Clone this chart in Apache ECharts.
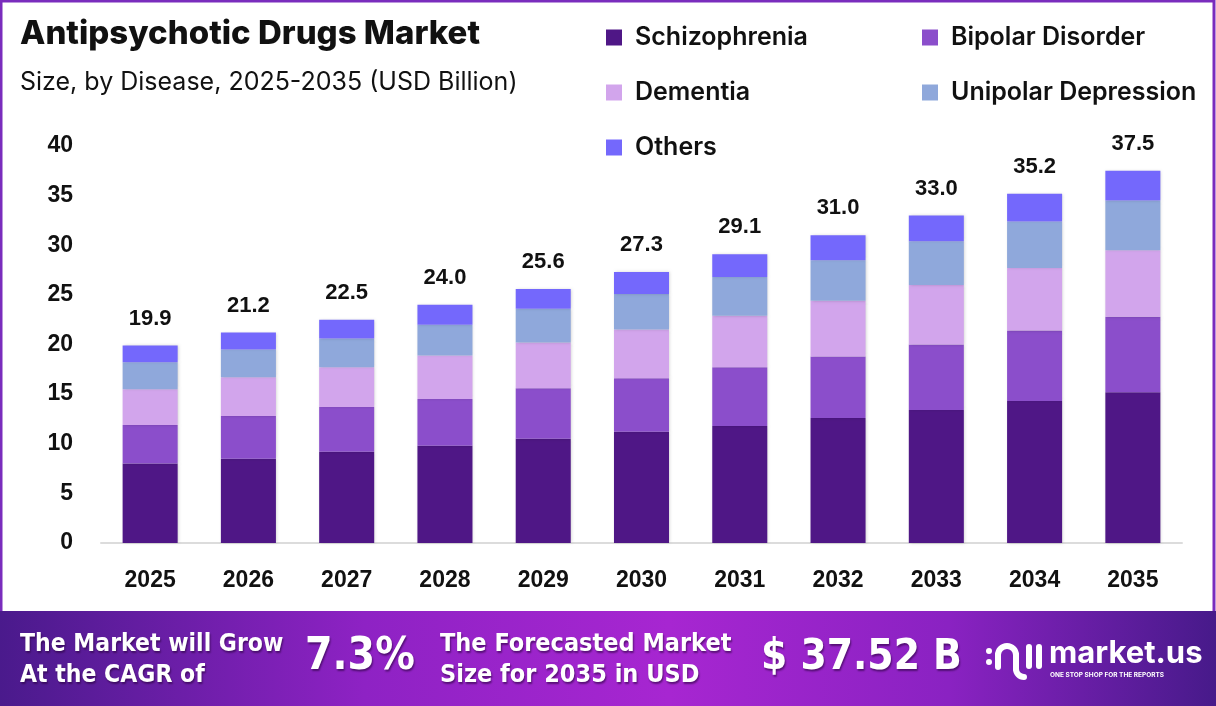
<!DOCTYPE html>
<html>
<head>
<meta charset="utf-8">
<title>Antipsychotic Drugs Market</title>
<script src="https://cdn.jsdelivr.net/npm/echarts@6/dist/echarts.min.js"></script>
<style>
  html, body { margin: 0; padding: 0; background: #fff; }
  #chart { width: 1216px; height: 706px; }
</style>
</head>
<body>
<div id="chart"></div>
<script>
// years on the x axis
var years = ['2025', '2026', '2027', '2028', '2029', '2030', '2031', '2032', '2033', '2034', '2035'];
// segment values, USD billion
var schizophrenia = [8.0, 8.5, 9.2, 9.8, 10.5, 11.2, 11.8, 12.6, 13.4, 14.3, 15.2];
var bipolar       = [3.9, 4.3, 4.5, 4.7, 5.1, 5.4, 5.9, 6.2, 6.6, 7.1, 7.6];
var dementia      = [3.6, 3.9, 4.0, 4.4, 4.6, 4.9, 5.2, 5.6, 6.0, 6.3, 6.7];
var unipolar      = [2.7, 2.8, 2.9, 3.1, 3.4, 3.6, 3.9, 4.1, 4.4, 4.7, 5.0];
var others        = [1.7, 1.7, 1.9, 2.0, 2.0, 2.2, 2.3, 2.5, 2.6, 2.8, 3.0];
// totals shown above each bar
var totals = [19.9, 21.2, 22.5, 24.0, 25.6, 27.3, 29.1, 31.0, 33.0, 35.2, 37.5];
var yTicks = [0, 5, 10, 15, 20, 25, 30, 35, 40];

var titleFont = 'Inter, "Noto Sans", sans-serif';
var numFont = '"Liberation Sans", Arial, sans-serif';
var bannerFont = '"Liberation Sans Narrow", "DejaVu Sans Condensed", "Liberation Sans", sans-serif';

function seg(name, data, color, withTotal) {
    var s = {
        name: name,
        type: 'bar',
        stack: 'total',
        barWidth: '56%',
        data: data,
        itemStyle: {
            color: color,
            shadowColor: 'rgba(0,0,0,0.18)',
            shadowBlur: 3,
            shadowOffsetX: 1
        }
    };
    if (withTotal) {
        s.label = {
            show: true,
            position: 'top',
            distance: 16,
            color: '#111',
            fontFamily: numFont,
            fontWeight: 'bold',
            fontSize: 22,
            formatter: function (p) { return totals[p.dataIndex].toFixed(1); }
        };
    }
    return s;
}

var legendText = { color: '#111', fontFamily: titleFont, fontWeight: 600, fontSize: 25, padding: [0, 0, 0, 8] };
var shadow = { textShadowColor: 'rgba(40,0,60,0.6)', textShadowBlur: 2, textShadowOffsetX: 1, textShadowOffsetY: 2 };

function bannerText(x, y, text, size, lh) {
    var st = { text: text, fill: '#fff', font: 'bold ' + size + 'px ' + bannerFont };
    if (lh) st.lineHeight = lh;
    for (var k in shadow) st[k] = shadow[k];
    return { type: 'text', x: x, y: y, z: 2, silent: true, style: st };
}

var option = {
    backgroundColor: '#fff',
    animation: false,
    title: [
        {
            text: 'Antipsychotic Drugs Market',
            left: 15, top: 13,
            textStyle: { color: '#111', fontFamily: titleFont, fontWeight: 800, fontSize: 33 }
        },
        {
            text: 'Size, by Disease, 2025-2035 (USD Billion)',
            left: 15, top: 65,
            textStyle: { color: '#111', fontFamily: titleFont, fontWeight: 400, fontSize: 25 }
        }
    ],
    legend: [
        {
            orient: 'vertical',
            left: 601, top: 20,
            itemWidth: 16, itemHeight: 16, itemGap: 30,
            icon: 'rect',
            data: ['Schizophrenia', 'Dementia', 'Others'],
            textStyle: legendText
        },
        {
            orient: 'vertical',
            left: 917, top: 20,
            itemWidth: 16, itemHeight: 16, itemGap: 30,
            icon: 'rect',
            data: ['Bipolar Disorder', 'Unipolar Depression'],
            textStyle: legendText
        }
    ],
    grid: { left: 101, right: 34, top: 146, bottom: 163 },
    xAxis: {
        type: 'category',
        data: years,
        axisLine: { lineStyle: { color: '#dcdcdc', width: 2 } },
        axisTick: { show: false },
        axisLabel: { color: '#111', fontFamily: numFont, fontWeight: 'bold', fontSize: 23, margin: 26 }
    },
    yAxis: {
        type: 'value',
        min: yTicks[0],
        max: yTicks[yTicks.length - 1],
        interval: 5,
        splitLine: { show: false },
        axisLine: { show: false },
        axisTick: { show: false },
        axisLabel: { color: '#111', fontFamily: numFont, fontWeight: 'bold', fontSize: 23, margin: 28 }
    },
    series: [
        seg('Schizophrenia', schizophrenia, '#4f1786', false),
        seg('Bipolar Disorder', bipolar, '#8b4ecb', false),
        seg('Dementia', dementia, '#d2a5ec', false),
        seg('Unipolar Depression', unipolar, '#8fa8db', false),
        seg('Others', others, '#7468fc', true)
    ],
    graphic: [
        // page frame
        {
            type: 'rect', silent: true, z: 0,
            shape: { x: 1, y: 1, width: 1213, height: 704 },
            style: { fill: 'none', stroke: '#7a2cbd', lineWidth: 3 }
        },
        // bottom banner
        {
            type: 'rect', silent: true, z: 1,
            shape: { x: 0, y: 611, width: 1216, height: 95 },
            style: {
                fill: new echarts.graphic.LinearGradient(0, 0, 1, 0, [
                    { offset: 0, color: '#4a1a8c' },
                    { offset: 0.3, color: '#8e22c4' },
                    { offset: 0.55, color: '#a726d1' },
                    { offset: 0.78, color: '#8a22c2' },
                    { offset: 1, color: '#471a8a' }
                ])
            }
        },
        bannerText(20, 629, 'The Market will Grow\nAt the CAGR of', 24.5, 31),
        bannerText(305, 636, '7.3%', 44),
        bannerText(440, 629, 'The Forecasted Market\nSize for 2035 in USD', 25, 31),
        bannerText(761, 637, '$ 37.52 B', 42),
        // market.us logo mark
        { type: 'circle', z: 2, silent: true, shape: { cx: 989, cy: 651, r: 3 }, style: { fill: '#fff' } },
        { type: 'circle', z: 2, silent: true, shape: { cx: 989, cy: 662, r: 3 }, style: { fill: '#fff' } },
        {
            type: 'arc', z: 2, silent: true,
            shape: { cx: 1007, cy: 655, r: 9, startAngle: Math.PI, endAngle: 2 * Math.PI, clockwise: true },
            style: { fill: 'none', stroke: '#fff', lineWidth: 6, lineCap: 'round' }
        },
        {
            type: 'line', z: 2, silent: true, shape: { x1: 998, y1: 655, x2: 998, y2: 667 },
            style: { stroke: '#fff', lineWidth: 6, lineCap: 'round' }
        },
        {
            type: 'line', z: 2, silent: true, shape: { x1: 1016, y1: 655, x2: 1016, y2: 669 },
            style: { stroke: '#fff', lineWidth: 6, lineCap: 'round' }
        },
        {
            type: 'arc', z: 2, silent: true,
            shape: { cx: 1024, cy: 669, r: 8, startAngle: Math.PI, endAngle: Math.PI / 2, clockwise: false },
            style: { fill: 'none', stroke: '#fff', lineWidth: 6, lineCap: 'round' }
        },
        {
            type: 'line', z: 2, silent: true, shape: { x1: 1029, y1: 647, x2: 1029, y2: 666 },
            style: { stroke: '#fff', lineWidth: 6, lineCap: 'round' }
        },
        {
            type: 'line', z: 2, silent: true, shape: { x1: 1039, y1: 647, x2: 1039, y2: 666 },
            style: { stroke: '#fff', lineWidth: 6, lineCap: 'round' }
        },
        {
            type: 'text', x: 1049, y: 638, z: 2, silent: true,
            style: { text: 'market.us', fill: '#fff', font: 'bold 31px ' + titleFont }
        },
        {
            type: 'text', x: 1050, y: 672, z: 2, silent: true,
            style: { text: 'ONE STOP SHOP FOR THE REPORTS', fill: '#fff', font: 'bold 6.5px ' + titleFont }
        }
    ]
};

echarts.init(document.getElementById('chart')).setOption(option);
</script>
</body>
</html>
